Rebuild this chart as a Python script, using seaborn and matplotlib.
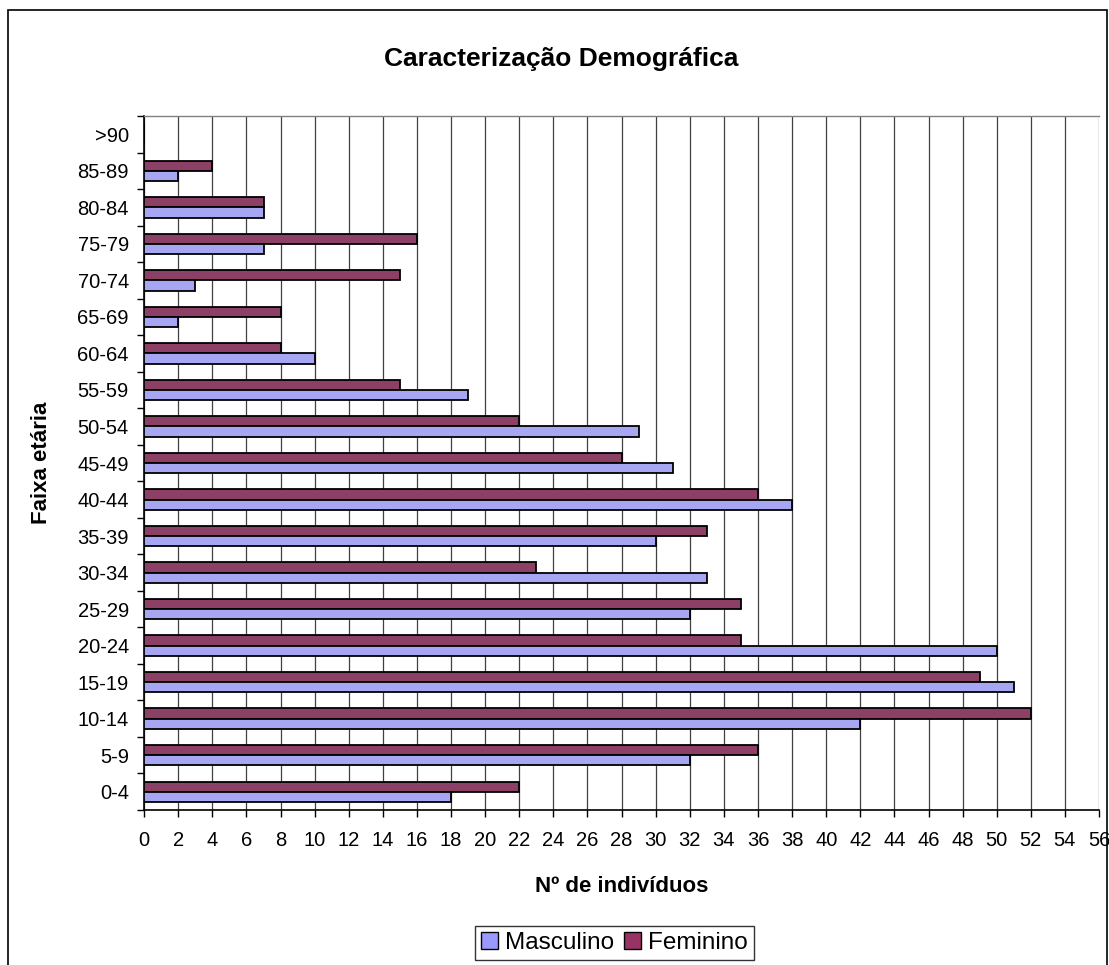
import matplotlib
matplotlib.use("Agg")
import matplotlib.pyplot as plt
import seaborn as sns
import pandas as pd
from matplotlib.patches import Patch, Rectangle
from matplotlib.ticker import MultipleLocator

# age groups, bottom to top
age_groups = ["0-4", "5-9", "10-14", "15-19", "20-24", "25-29", "30-34",
              "35-39", "40-44", "45-49", "50-54", "55-59", "60-64",
              "65-69", "70-74", "75-79", "80-84", "85-89", ">90"]
masculino = [18, 32, 42, 51, 50, 32, 33, 30, 38, 31, 29, 19, 10, 2, 3, 7, 7, 2, 0]
feminino = [22, 36, 52, 49, 35, 35, 23, 33, 36, 28, 22, 15, 8, 8, 15, 16, 7, 4, 0]

order = age_groups[::-1]

df = pd.DataFrame({
    "Faixa": age_groups * 2,
    "Sexo": ["Masculino"] * len(age_groups) + ["Feminino"] * len(age_groups),
    "N": masculino + feminino,
})

sns.set_style("white")
plt.rcParams["font.family"] = ["Liberation Sans", "DejaVu Sans"]
plt.rcParams["text.color"] = "black"
plt.rcParams["axes.labelcolor"] = "black"
plt.rcParams["xtick.color"] = "black"
plt.rcParams["ytick.color"] = "black"

colors = {"Masculino": "#9999FF", "Feminino": "#993366"}

fig = plt.figure(figsize=(11.09, 9.65), dpi=100)
ax = fig.add_axes([0.130, 0.1606, 0.861, 0.7192])

sns.barplot(
    data=df,
    y="Faixa",
    x="N",
    hue="Sexo",
    order=order,
    hue_order=["Feminino", "Masculino"],
    palette=colors,
    orient="h",
    width=0.56,
    edgecolor="black",
    linewidth=1.3,
    legend=False,
    ax=ax,
    zorder=3,
)

ax.set_xlim(0, 56)
ax.set_ylim(len(order) - 0.5, -0.5)
ax.xaxis.set_major_locator(MultipleLocator(2))
ax.grid(axis="x", color="black", linewidth=0.9, alpha=0.75, zorder=0)
ax.set_axisbelow(True)

# category boundaries as tick marks on y axis
ax.set_yticks([i - 0.5 for i in range(len(order) + 1)], minor=True)
ax.tick_params(axis="y", which="major", left=True, length=0, labelsize=14.5, pad=11)
ax.tick_params(axis="y", which="minor", left=True, length=5, width=1,
               color="black", direction="out")
ax.tick_params(axis="x", bottom=True, length=5, width=1, color="black",
               direction="out", labelsize=14.5, pad=10)

ax.spines["right"].set_visible(False)
ax.spines["top"].set_color("#808080")
ax.spines["top"].set_linewidth(1)
ax.spines["left"].set_color("black")
ax.spines["bottom"].set_color("black")
ax.spines["left"].set_linewidth(1.2)
ax.spines["bottom"].set_linewidth(1.2)

ax.set_ylabel("Faixa etária", fontsize=16, fontweight="bold", labelpad=18)
ax.set_xlabel("Nº de indivíduos", fontsize=16, fontweight="bold", labelpad=19)

fig.text(0.506, 0.939, "Caracterização Demográfica", ha="center", va="center",
         fontsize=19, fontweight="bold")

handles = [Patch(facecolor=colors["Masculino"], edgecolor="black", label="Masculino"),
           Patch(facecolor=colors["Feminino"], edgecolor="black", label="Feminino")]
fig.legend(handles=handles, loc="center", bbox_to_anchor=(0.554, 0.0228),
           ncol=2, frameon=True, fancybox=False, edgecolor="black",
           fontsize=17.5, handlelength=0.7, handleheight=0.7, handletextpad=0.3,
           columnspacing=0.4, borderpad=0.25, borderaxespad=0)

fig.patches.append(Rectangle((0.007, -0.05), 0.991, 1.04, transform=fig.transFigure,
                             fill=False, edgecolor="black", linewidth=1.2))

fig.savefig("out.png", dpi=100)
